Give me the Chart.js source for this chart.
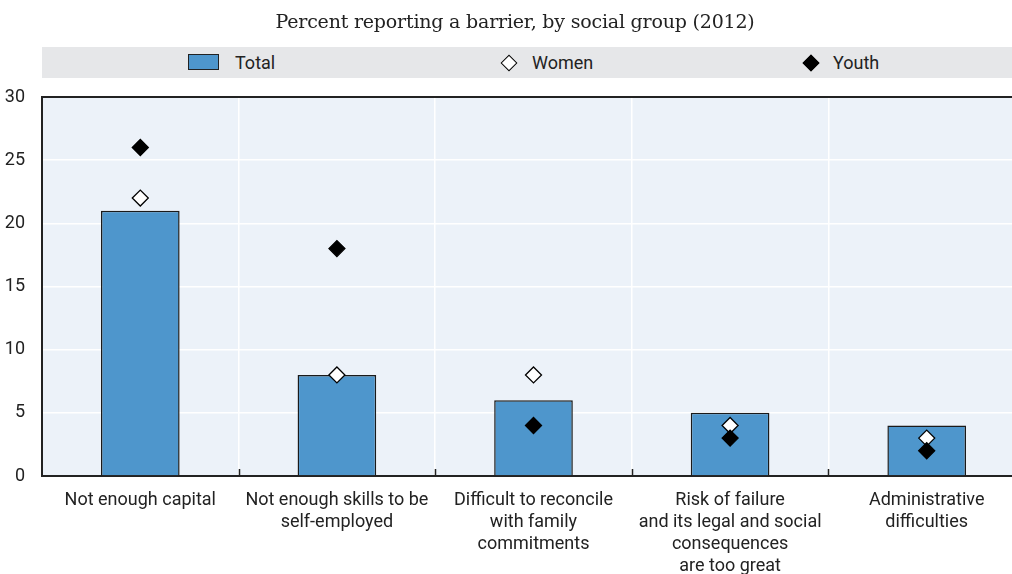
<!DOCTYPE html>
<html>
<head>
<meta charset="utf-8">
<script src="https://cdn.jsdelivr.net/npm/chart.js@4"></script>
<style>
html, body { margin: 0; padding: 0; background: #fff; overflow: hidden; }
#wrap { position: relative; width: 1012px; height: 574px; overflow: hidden; }
#chart { position: absolute; left: 0; top: 0; }
#sub {
    position: absolute; left: 0; top: 10px; width: 1030px; text-align: center;
    font-family: "DejaVu Serif", "Liberation Serif", serif; font-size: 19px; color: #222;
    letter-spacing: -0.2px;
}
#legend {
    position: absolute; left: 42px; top: 47px; width: 990px; height: 31px;
    background: #e6e7e9; color: #222;
    font-family: Roboto, sans-serif; font-size: 18px;
}
.item { position: absolute; top: 0; height: 31px; line-height: 31px; white-space: nowrap; }
.swatch { position: absolute; top: 7px; width: 29px; height: 14px; background: #4e96cc; border: 1.5px solid #222; }
.diamond { position: absolute; top: 10px; width: 10px; height: 10px; border: 1.3px solid #000; transform: rotate(45deg); }
</style>
</head>
<body>
<div id="wrap">
    <canvas id="chart" width="1040" height="574"></canvas>
    <div id="sub">Percent reporting a barrier, by social group (2012)</div>
    <div id="legend"></div>
</div>
<script>
// ===== Data =====
const categories = [
    ["Not enough capital"],
    ["Not enough skills to be", "self-employed"],
    ["Difficult to reconcile", "with family", "commitments"],
    ["Risk of failure", "and its legal and social", "consequences", "are too great"],
    ["Administrative", "difficulties"]
];
const seriesNames = ["Total", "Women", "Youth"];
const totalValues = [21, 8, 6, 5, 4];
const womenValues = [22, 8, 8, 4, 3];
const youthValues = [26, 18, 4, 3, 2];
const yTicks = [0, 5, 10, 15, 20, 25, 30];

const FONT = 'Roboto, sans-serif';
const INK = "#222";

// ===== Legend (html, sits in the grey band) =====
const legend = document.getElementById("legend");
legend.innerHTML = `
    <span class="swatch" style="left:146px"></span>
    <span class="item" style="left:193px">${seriesNames[0]}</span>
    <span class="diamond" style="left:461px;background:#fff"></span>
    <span class="item" style="left:490px">${seriesNames[1]}</span>
    <span class="diamond" style="left:763px;background:#000"></span>
    <span class="item" style="left:791px">${seriesNames[2]}</span>
`;

// background + frame bits the library does not draw
const plotDecor = {
    id: "plotDecor",
    beforeDraw(chart) {
        const a = chart.chartArea, ctx = chart.ctx;
        ctx.save();
        ctx.fillStyle = "#ecf2f9";
        ctx.fillRect(a.left, a.top, a.right - a.left, a.bottom - a.top);
        ctx.restore();
    },
    afterDraw(chart) {
        const a = chart.chartArea, ctx = chart.ctx;
        const x = chart.scales.x;
        ctx.save();
        ctx.strokeStyle = INK;
        ctx.lineWidth = 2;
        ctx.beginPath();
        ctx.moveTo(a.left, a.top);
        ctx.lineTo(a.right, a.top);
        ctx.stroke();
        // small ticks between categories, pointing up from the axis
        ctx.lineWidth = 1.5;
        for (let i = 1; i < categories.length; i++) {
            const px = Math.round((x.getPixelForTick(i - 1) + x.getPixelForTick(i)) / 2) + 0.5;
            ctx.beginPath();
            ctx.moveTo(px, a.bottom);
            ctx.lineTo(px, a.bottom - 7);
            ctx.stroke();
        }
        ctx.restore();
    }
};

new Chart(document.getElementById("chart").getContext("2d"), {
    data: {
        labels: categories,
        datasets: [
            {
                type: "line",
                label: seriesNames[2],
                data: youthValues,
                showLine: false,
                pointStyle: "rectRot",
                pointRadius: 8,
                pointBorderWidth: 1.3,
                backgroundColor: "#000",
                borderColor: "#000",
                order: 1
            },
            {
                type: "line",
                label: seriesNames[1],
                data: womenValues,
                showLine: false,
                pointStyle: "rectRot",
                pointRadius: 8,
                pointBorderWidth: 1.3,
                backgroundColor: "#fff",
                borderColor: "#000",
                order: 2
            },
            {
                type: "bar",
                label: seriesNames[0],
                data: totalValues,
                backgroundColor: "#4e96cc",
                borderColor: "#1a1a1a",
                borderWidth: 1.5,
                barPercentage: 0.4,
                categoryPercentage: 1,
                order: 3
            }
        ]
    },
    options: {
        responsive: false,
        animation: false,
        devicePixelRatio: 1,
        layout: { padding: { top: 97, right: 15, left: 0, bottom: 0 } },
        plugins: {
            legend: { display: false },
            tooltip: { enabled: false }
        },
        scales: {
            x: {
                offset: true,
                grid: { color: "#fff", lineWidth: 1.5, offset: true, drawTicks: false },
                border: { color: INK, width: 2 },
                ticks: {
                    color: INK, padding: 14, maxRotation: 0, autoSkip: false,
                    font: { family: FONT, size: 18, lineHeight: 1.22 }
                },
                afterFit(s) { s.height = 98; }
            },
            y: {
                min: 0,
                max: 30,
                afterBuildTicks(s) { s.ticks = yTicks.map(v => ({ value: v })); },
                grid: { color: "#fff", lineWidth: 1.5, drawTicks: false },
                border: { color: INK, width: 2 },
                ticks: { color: INK, padding: 17, font: { family: FONT, size: 18 } },
                afterFit(s) { s.width = 42; }
            }
        }
    },
    plugins: [plotDecor]
});
</script>
</body>
</html>
